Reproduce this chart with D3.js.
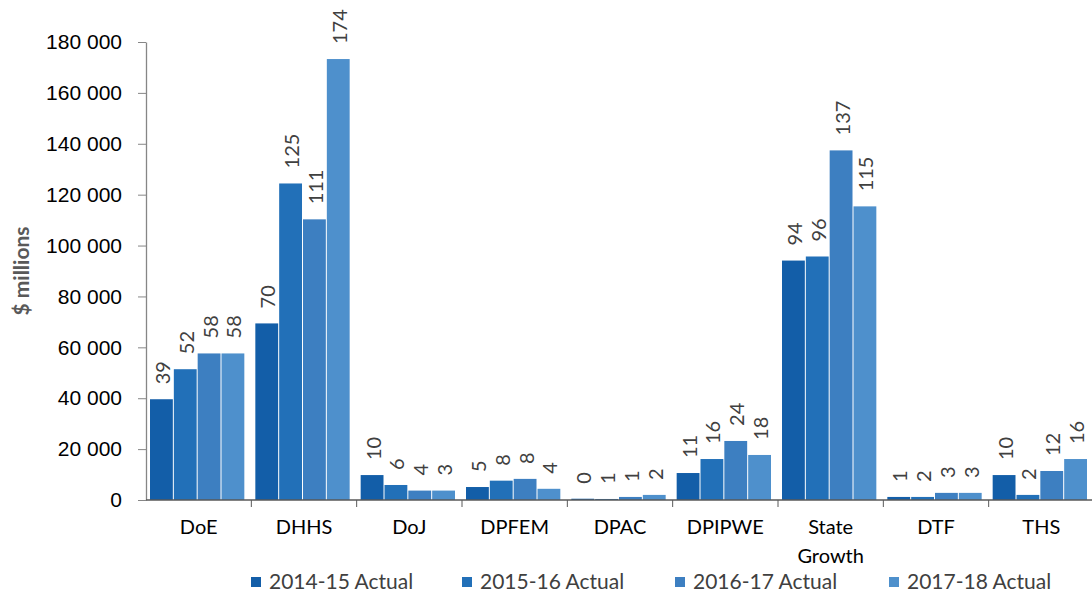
<!DOCTYPE html>
<html>
<head>
<meta charset="utf-8">
<script src="https://cdn.jsdelivr.net/npm/d3@7"></script>
<style>
  body { margin: 0; background: #fff; }
  svg { font-family: Lato, "Open Sans", sans-serif; }
</style>
</head>
<body>
<svg width="1092" height="597"></svg>
<script>
let width = 1092, height = 597;
let svg = d3.select("svg");

// Categories and series
let categories = ["DoE", "DHHS", "DoJ", "DPFEM", "DPAC", "DPIPWE", "State Growth", "DTF", "THS"];
let seriesNames = ["2014-15 Actual", "2015-16 Actual", "2016-17 Actual", "2017-18 Actual"];
let colors = ["#135EA8", "#2270B8", "#3D7FC1", "#4E90CC"];

// bar heights
let v1415 = [39600, 69400, 9800, 5100, 500, 10600, 94100, 1200, 9800];
let v1516 = [51400, 124400, 5900, 7600, 400, 16100, 95700, 1200, 2000];
let v1617 = [57600, 110300, 3700, 8300, 1200, 23200, 137400, 2800, 11400];
let v1718 = [57600, 173300, 3700, 4400, 2000, 17700, 115400, 2800, 16100];

// data labels as printed
let l1415 = ["39", "70", "10", "5", "0", "11", "94", "1", "10"];
let l1516 = ["52", "125", "6", "8", "1", "16", "96", "2", "2"];
let l1617 = ["58", "111", "4", "8", "1", "24", "137", "3", "12"];
let l1718 = ["58", "174", "3", "4", "2", "18", "115", "3", "16"];

let yTicks = [0, 20000, 40000, 60000, 80000, 100000, 120000, 140000, 160000, 180000];

let values = [v1415, v1516, v1617, v1718];
let labels = [l1415, l1516, l1617, l1718];

let margin = { left: 146, right: -2, top: 42, bottom: 97 };

let x0 = d3.scaleBand()
    .domain(categories)
    .range([margin.left, width - margin.right]);

let x1 = d3.scaleBand()
    .domain(d3.range(seriesNames.length))
    .range([4, x0.bandwidth() - 6]);

let y = d3.scaleLinear()
    .domain([0, 180000])
    .range([height - margin.bottom, margin.top]);

let fmt = d => d3.format(",")(d).replace(/,/g, " ");

// y axis
let yAxis = svg.append("g")
    .attr("transform", "translate(" + margin.left + ",0)")
    .call(d3.axisLeft(y).tickValues(yTicks).tickFormat(fmt).tickSize(8).tickSizeOuter(0));
yAxis.select(".domain").attr("stroke", "#868686").attr("stroke-width", 1.3);
yAxis.selectAll(".tick line").attr("stroke", "#868686");
yAxis.selectAll(".tick text")
    .attr("x", -24)
    .attr("fill", "#000")
    .style("font-size", "21px");

svg.append("text")
    .attr("transform", "translate(22," + y(90000) + ") rotate(-90)")
    .attr("text-anchor", "middle")
    .attr("dy", "0.35em")
    .attr("fill", "#595959")
    .style("font-size", "21px")
    .style("font-weight", "bold")
    .text("$ millions");

// bars
let groups = svg.append("g")
    .selectAll("g")
    .data(categories)
    .enter()
    .append("g")
    .attr("transform", d => "translate(" + x0(d) + ",0)");

groups.selectAll("rect")
    .data((d, i) => values.map((s, k) => ({ k: k, v: s[i], label: labels[k][i] })))
    .enter()
    .append("rect")
    .attr("x", d => x1(d.k))
    .attr("y", d => y(d.v))
    .attr("width", x1.bandwidth() - 1)
    .attr("height", d => y(0) - y(d.v))
    .attr("fill", d => colors[d.k]);

groups.selectAll("text")
    .data((d, i) => values.map((s, k) => ({ k: k, v: s[i], label: labels[k][i] })))
    .enter()
    .append("text")
    .attr("transform", d => "translate(" + (x1(d.k) + x1.bandwidth() / 2 + 1) + "," + (y(d.v) - 15) + ") rotate(-90)")
    .attr("dy", "0.35em")
    .attr("fill", "#404040")
    .style("font-size", "20px")
    .text(d => d.label);

// x axis
let xAxis = svg.append("g")
    .attr("transform", "translate(0," + y(0) + ")");
xAxis.append("line")
    .attr("x1", margin.left)
    .attr("x2", width)
    .attr("stroke", "#595959")
    .attr("stroke-width", 1.3);
xAxis.selectAll("line.tick")
    .data(categories)
    .enter()
    .append("line")
    .attr("class", "tick")
    .attr("x1", d => x0(d) + x0.bandwidth())
    .attr("x2", d => x0(d) + x0.bandwidth())
    .attr("y1", 0)
    .attr("y2", 7)
    .attr("stroke", "#595959");
xAxis.selectAll("text")
    .data(categories)
    .enter()
    .append("text")
    .attr("x", d => x0(d) + x0.bandwidth() / 2)
    .attr("y", 34)
    .attr("text-anchor", "middle")
    .attr("fill", "#000")
    .style("font-size", "20px")
    .each(function (d) {
        let words = d.split(" ");
        let t = d3.select(this);
        words.forEach((w, i) => {
            t.append("tspan")
                .attr("x", x0(d) + x0.bandwidth() / 2)
                .attr("dy", i == 0 ? 0 : 29)
                .text(w);
        });
    });

// legend
let legendX = [251, 462, 675, 889];
let legend = svg.append("g")
    .selectAll("g")
    .data(seriesNames)
    .enter()
    .append("g")
    .attr("transform", (d, i) => "translate(" + legendX[i] + ",582)");
legend.append("rect")
    .attr("x", 0)
    .attr("y", -5)
    .attr("width", 10)
    .attr("height", 10)
    .attr("fill", (d, i) => colors[i]);
legend.append("text")
    .attr("x", 18)
    .attr("dy", "0.35em")
    .attr("fill", "#404040")
    .style("font-size", "21px")
    .text(d => d);
</script>
</body>
</html>
